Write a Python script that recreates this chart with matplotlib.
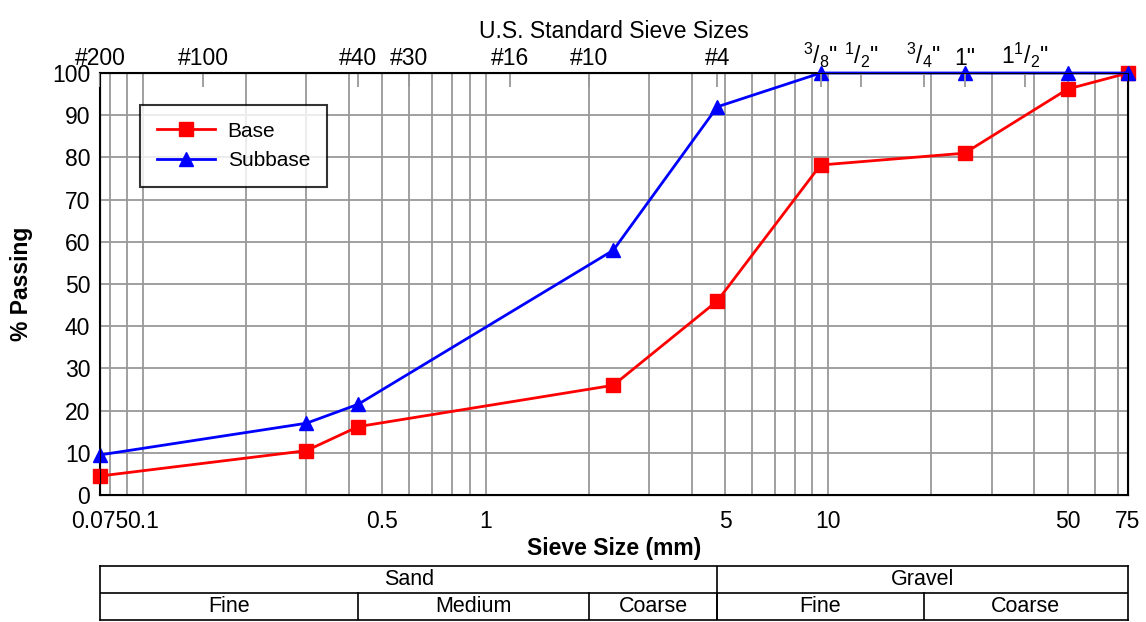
import matplotlib.pyplot as plt
from matplotlib.ticker import FixedLocator, NullFormatter, NullLocator

plt.rcParams['font.family'] = ['Liberation Sans', 'DejaVu Sans']
plt.rcParams['mathtext.fontset'] = 'custom'
plt.rcParams['mathtext.rm'] = 'Liberation Sans'
plt.rcParams['mathtext.default'] = 'rm'

# sieve size (mm) and % passing
base_size = [0.075, 0.3, 0.425, 2.36, 4.75, 9.5, 25, 50, 75]
base_pass = [4.5, 10.5, 16.2, 26, 46, 78.2, 81, 96.2, 100]
sub_size = [0.075, 0.3, 0.425, 2.36, 4.75, 9.5, 25, 50, 75]
sub_pass = [9.5, 17, 21.5, 58, 92, 100, 100, 100, 100]

bottom_ticks = [0.075, 0.1, 0.5, 1, 5, 10, 50, 75]
bottom_labels = ['0.075', '0.1', '0.5', '1', '5', '10', '50', '75']
sieve_sizes = [0.075, 0.15, 0.425, 0.6, 1.18, 2.0, 4.75, 9.5, 12.5, 19, 25, 37.5]
sieve_labels = ['#200', '#100', '#40', '#30', '#16', '#10', '#4',
                '$^3$/$_8$"', '$^1$/$_2$"', '$^3$/$_4$"', '1"', '1$^1$/$_2$"']

# soil classes: (label, from, to)
row1 = [('Sand', 0.075, 4.75), ('Gravel', 4.75, 75)]
row2 = [('Fine', 0.075, 0.425), ('Medium', 0.425, 2.0), ('Coarse', 2.0, 4.75),
        ('Fine', 4.75, 19), ('Coarse', 19, 75)]

FS = 16.5

fig = plt.figure(figsize=(11.46, 6.22), dpi=100)
ax = fig.add_axes([0.0873, 0.2042, 0.897, 0.6784])

ax.plot(base_size, base_pass, color='#ff0000', marker='s', markersize=10,
        linewidth=2, label='Base', clip_on=False, zorder=4)
ax.plot(sub_size, sub_pass, color='#0000ff', marker='^', markersize=10,
        linewidth=2, label='Subbase', clip_on=False, zorder=5)

ax.set_xscale('log')
ax.set_xlim(0.075, 75)
ax.set_ylim(0, 100)
ax.set_yticks(range(0, 101, 10))
ax.xaxis.set_major_locator(FixedLocator(bottom_ticks))
ax.set_xticklabels(bottom_labels)
ax.xaxis.set_minor_locator(NullLocator())
ax.tick_params(axis='x', labelsize=FS, length=0, pad=11)
ax.tick_params(axis='y', labelsize=FS, length=0, pad=7)

# vertical log grid lines
for dec in [0.01, 0.1, 1, 10]:
    for m in range(1, 10):
        v = dec * m
        if 0.075 < v < 75:
            ax.axvline(v, color='#999999', linewidth=1.3, zorder=1)
ax.yaxis.grid(True, color='#999999', linewidth=1.3, zorder=1)
ax.set_axisbelow(True)

for s in ax.spines.values():
    s.set_linewidth(1.5)
    s.set_color('black')

ax.set_xlabel('Sieve Size (mm)', fontsize=FS, fontweight='bold', labelpad=3)
ax.set_ylabel('% Passing', fontsize=FS, fontweight='bold', labelpad=14)

top = ax.twiny()
top.set_xscale('log')
top.set_xlim(ax.get_xlim())
top.xaxis.set_major_locator(FixedLocator(sieve_sizes))
top.xaxis.set_minor_locator(NullLocator())
top.set_xticklabels(sieve_labels)
top.tick_params(axis='x', direction='in', length=10, width=1.3, color='#999999',
                labelsize=FS, pad=2)
top.set_xlabel('U.S. Standard Sieve Sizes', fontsize=FS, labelpad=2)

leg = ax.legend(loc='upper left', bbox_to_anchor=(0.039, 0.924), fontsize=15,
                frameon=True, fancybox=False, edgecolor='black', borderaxespad=0,
                handlelength=2.8, handletextpad=0.6, borderpad=0.8, labelspacing=0.5)
leg.get_frame().set_linewidth(1.5)

# classification table
tab = fig.add_axes([0.0873, 0.003, 0.897, 0.087])
tab.set_xscale('log')
tab.set_xlim(0.075, 75)
tab.set_ylim(0, 2)
tab.set_xticks([])
tab.set_yticks([])
tab.xaxis.set_minor_locator(NullLocator())
tab.xaxis.set_minor_formatter(NullFormatter())
for s in tab.spines.values():
    s.set_linewidth(1.2)
tab.axhline(1, color='black', linewidth=1.2)
for name, a, b in row1:
    tab.text((a * b) ** 0.5, 1.5, name, ha='center', va='center', fontsize=15.5)
    if a > 0.075:
        tab.plot([a, a], [0, 2], color='black', linewidth=1.2)
for name, a, b in row2:
    tab.text((a * b) ** 0.5, 0.5, name, ha='center', va='center', fontsize=15.5)
    if a > 0.075:
        tab.plot([a, a], [0, 1], color='black', linewidth=1.2)

fig.savefig('out.png', dpi=100)
